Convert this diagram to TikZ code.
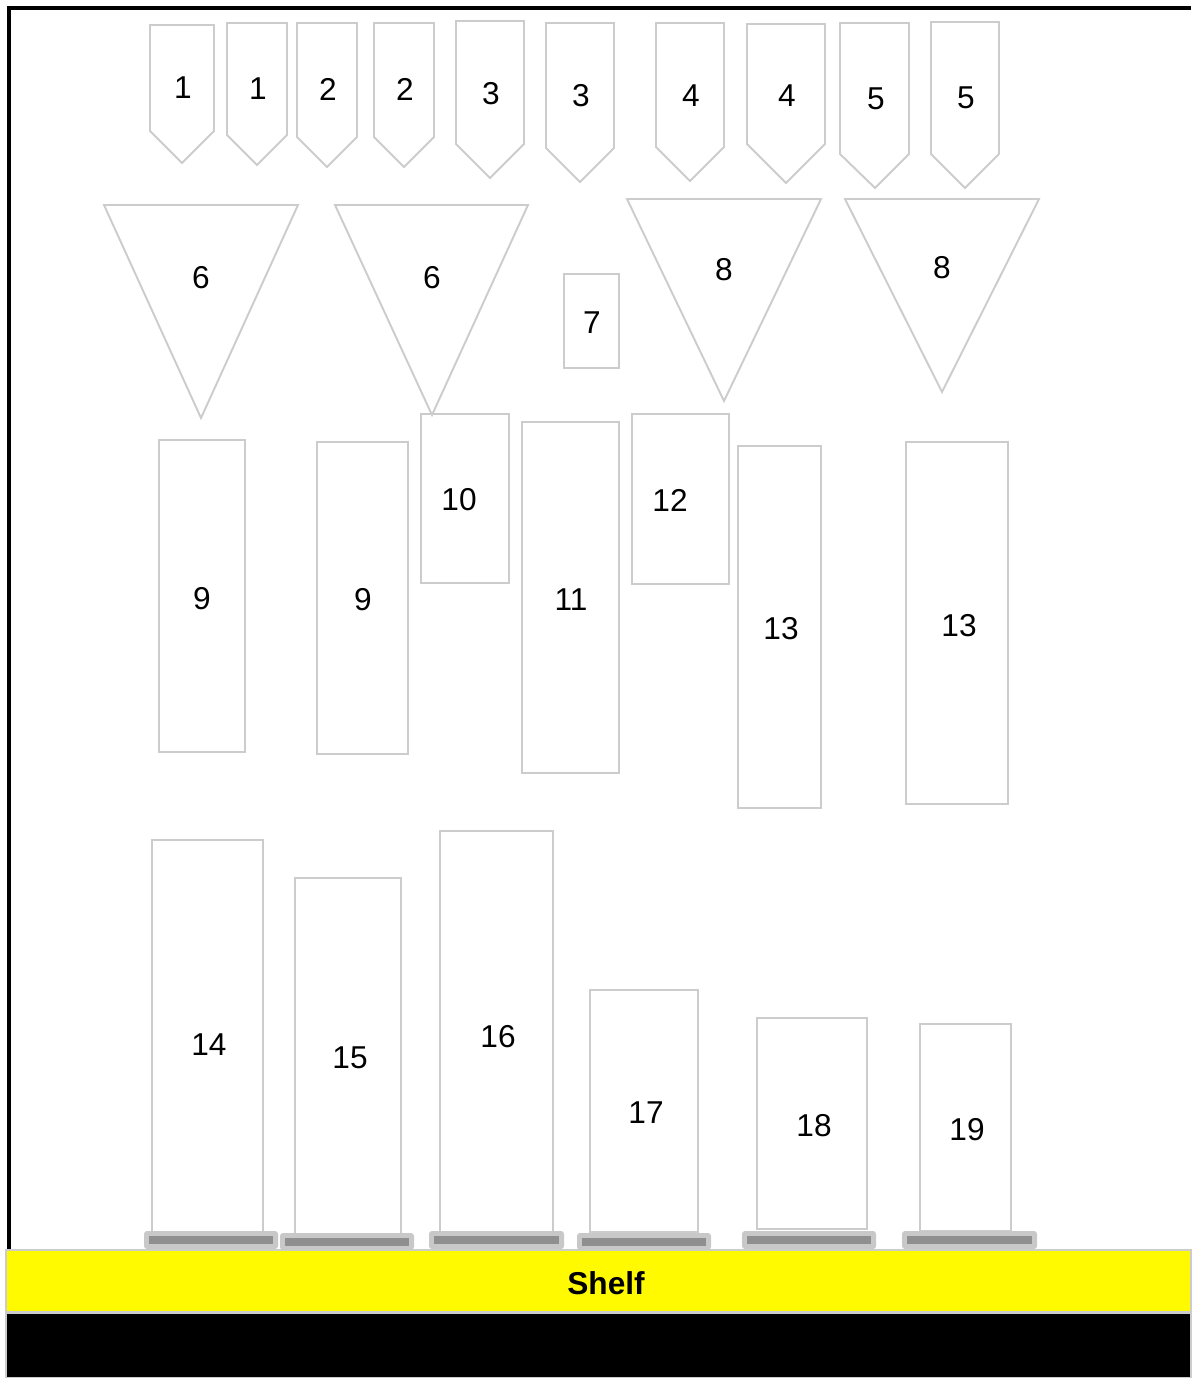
\documentclass[tikz,border=0pt]{standalone}
\usepackage{fontspec}
\setmainfont{Liberation Sans}
\usepackage{xcolor}
\usepackage{tikz}
\definecolor{partgray}{RGB}{204,204,204}
\definecolor{standlight}{RGB}{200,200,200}
\definecolor{standdark}{RGB}{143,143,143}
\definecolor{shelfyellow}{RGB}{255,250,0}

\begin{document}
\begin{tikzpicture}[
  x=0.02cm, y=-0.02cm,
  outline/.style={draw=partgray, line width=1.1pt, line join=miter},
  lbl/.style={inner sep=0pt, xshift=0.02cm, font=\fontsize{18pt}{21pt}\selectfont},
  stand/.style={fill=standlight, rounded corners=1.7pt},
  standbar/.style={fill=standdark},
  frame/.style={draw=black, line width=2pt}
]
\useasboundingbox (0,0) rectangle (1191,1378);

% frame and shelf
\draw[frame] (9,1250) -- (9,8) -- (1191,8);
\filldraw[fill=shelfyellow, draw=partgray, line width=0.6pt] (6,1250) rectangle (1191,1312);
\filldraw[fill=black, draw=partgray, line width=0.6pt] (6,1313) rectangle (1191,1378);
\node[lbl, font=\fontsize{18pt}{21pt}\selectfont\bfseries] (shelf) at (605,1283) {Shelf};

% top row: tags
\draw[outline] (150,25) -- (214,25) -- (214,131) -- (182,163) -- (150,131) -- cycle;
\draw[outline] (227,23) -- (287,23) -- (287,135) -- (257,165) -- (227,135) -- cycle;
\draw[outline] (297,23) -- (357,23) -- (357,137) -- (327,167) -- (297,137) -- cycle;
\draw[outline] (374,23) -- (434,23) -- (434,137) -- (404,167) -- (374,137) -- cycle;
\draw[outline] (456,21) -- (524,21) -- (524,144) -- (490,178) -- (456,144) -- cycle;
\draw[outline] (546,23) -- (614,23) -- (614,148) -- (580,182) -- (546,148) -- cycle;
\draw[outline] (656,23) -- (724,23) -- (724,147) -- (690,181) -- (656,147) -- cycle;
\draw[outline] (747,24) -- (825,24) -- (825,144) -- (786,183) -- (747,144) -- cycle;
\draw[outline] (840,23) -- (909,23) -- (909,154) -- (875,188) -- (840,154) -- cycle;
\draw[outline] (931,22) -- (999,22) -- (999,154) -- (965,188) -- (931,154) -- cycle;
\node[lbl] (tag1a) at (182,88) {1};
\node[lbl] (tag1b) at (257,89) {1};
\node[lbl] (tag2a) at (327,89) {2};
\node[lbl] (tag2b) at (404,89) {2};
\node[lbl] (tag3a) at (490,94) {3};
\node[lbl] (tag3b) at (580,96) {3};
\node[lbl] (tag4a) at (690,96) {4};
\node[lbl] (tag4b) at (786,96) {4};
\node[lbl] (tag5a) at (875,99) {5};
\node[lbl] (tag5b) at (965,98) {5};

% second row: funnels
\draw[outline] (104,205) -- (298,205) -- (201,418) -- cycle;
\draw[outline] (335,205) -- (528,205) -- (432,415) -- cycle;
\draw[outline] (627,199) -- (821,199) -- (724,401) -- cycle;
\draw[outline] (845,199) -- (1039,199) -- (942,392) -- cycle;
\draw[outline] (564,274) rectangle (619,368);
\node[lbl] (fun6a) at (200,278) {6};
\node[lbl] (fun6b) at (431,278) {6};
\node[lbl] (box7) at (591,323) {7};
\node[lbl] (fun8a) at (723,270) {8};
\node[lbl] (fun8b) at (941,268) {8};

% third row
\draw[outline] (159,440) rectangle (245,752);
\draw[outline] (317,442) rectangle (408,754);
\draw[outline] (421,414) rectangle (509,583);
\draw[outline] (522,422) rectangle (619,773);
\draw[outline] (632,414) rectangle (729,584);
\draw[outline] (738,446) rectangle (821,808);
\draw[outline] (906,442) rectangle (1008,804);
\node[lbl] (box9a) at (201,599) {9};
\node[lbl] (box9b) at (362,600) {9};
\node[lbl] (box10) at (458,500) {10};
\node[lbl] (box11) at (570,600) {11};
\node[lbl] (box12) at (669,500) {12};
\node[lbl] (box13a) at (780,629) {13};
\node[lbl] (box13b) at (958,626) {13};

% bottom row on stands
\draw[outline] (152,840) rectangle (263,1232);
\draw[outline] (295,878) rectangle (401,1234);
\draw[outline] (440,831) rectangle (553,1232);
\draw[outline] (590,990) rectangle (698,1232);
\draw[outline] (757,1018) rectangle (867,1229);
\draw[outline] (920,1024) rectangle (1011,1231);
\node[lbl] (box14) at (208,1045) {14};
\node[lbl] (box15) at (349,1058) {15};
\node[lbl] (box16) at (497,1037) {16};
\node[lbl] (box17) at (645,1113) {17};
\node[lbl] (box18) at (813,1126) {18};
\node[lbl] (box19) at (966,1130) {19};

\fill[stand] (144,1231) rectangle (278,1249);
\fill[stand] (280,1233) rectangle (414,1250);
\fill[stand] (429,1231) rectangle (564,1249);
\fill[stand] (577,1233) rectangle (711,1250);
\fill[stand] (742,1231) rectangle (876,1249);
\fill[stand] (902,1231) rectangle (1037,1249);
\fill[standbar] (149,1236) rectangle (273,1244);
\fill[standbar] (285,1238) rectangle (409,1246);
\fill[standbar] (434,1236) rectangle (559,1244);
\fill[standbar] (582,1238) rectangle (706,1246);
\fill[standbar] (747,1236) rectangle (871,1244);
\fill[standbar] (907,1236) rectangle (1032,1244);
\end{tikzpicture}
\end{document}
